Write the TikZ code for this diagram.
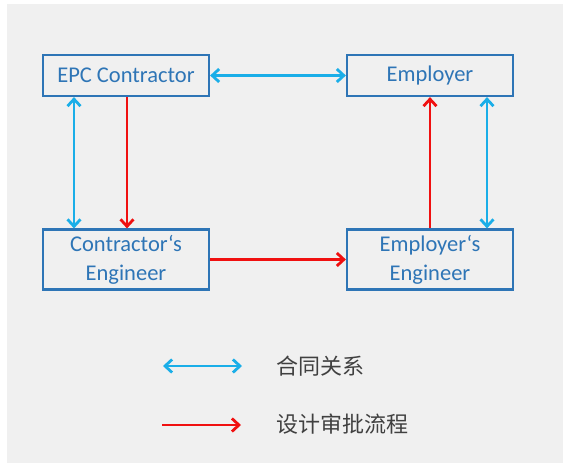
\documentclass[tikz,border=0pt]{standalone}
\usepackage{fontspec}
\setmainfont{Carlito}
\newfontfamily\cjkfont{Noto Sans CJK SC}
\usetikzlibrary{arrows.meta}
\definecolor{boxblue}{HTML}{2E75B6}
\definecolor{txtblue}{HTML}{2E75B6}
\definecolor{cyanarrow}{HTML}{1AAEE8}
\definecolor{redarrow}{HTML}{F01010}
\definecolor{bggrey}{HTML}{F0F0F0}
\definecolor{legtext}{HTML}{404040}
\tikzset{
  partybox/.style={draw=boxblue, line width=2.2pt, fill=bggrey, minimum width=166pt,
    text=txtblue, align=center, inner sep=0pt, font=\fontsize{22.5}{29}\selectfont},
  contract/.style={draw=cyanarrow, line width=2.8pt, {Straight Barb[length=7pt,width=13pt]}-{Straight Barb[length=7pt,width=13pt]}},
  approval/.style={draw=redarrow, line width=2.8pt, -{Straight Barb[length=7pt,width=13pt]}},
  legendtext/.style={text=legtext, anchor=west, font=\cjkfont\fontsize{22}{24}\selectfont, inner sep=0pt}
}
\begin{document}
\begin{tikzpicture}[x=1pt,y=-1pt]
\useasboundingbox (0,0) rectangle (566,471);
\fill[white] (0,0) rectangle (566,471);
\fill[bggrey] (7,4) rectangle (563,463);
\node[partybox, minimum height=41pt] (epc) at (126,75.5) {EPC Contractor};
\node[partybox, minimum height=41pt] (emp) at (430,75.5) {Employer};
\node[partybox, minimum height=60pt] (ce) at (126,259.5) {Contractor‘s\\Engineer};
\node[partybox, minimum height=60pt] (ee) at (430,259.5) {Employer‘s\\Engineer};
% contract relations
\draw[contract] (epc.east) -- (emp.west);
\draw[contract] ([xshift=-52pt]epc.south) -- ([xshift=-52pt]ce.north);
\draw[contract] ([xshift=57pt]emp.south) -- ([xshift=57pt]ee.north);
% approval flow
\draw[approval] ([xshift=1pt]epc.south) -- ([xshift=1pt]ce.north);
\draw[approval] (ce.east) -- (ee.west);
\draw[approval] (ee.north) -- (emp.south);
% legend
\coordinate (l1a) at (163,366);
\coordinate (l1b) at (242,366);
\coordinate (l2a) at (162,425);
\coordinate (l2b) at (241,425);
\draw[contract] (l1a) -- (l1b);
\draw[approval] (l2a) -- (l2b);
\node[legendtext] (t1) at (276,366) {合同关系};
\node[legendtext] (t2) at (276,424) {设计审批流程};
\end{tikzpicture}
\end{document}
